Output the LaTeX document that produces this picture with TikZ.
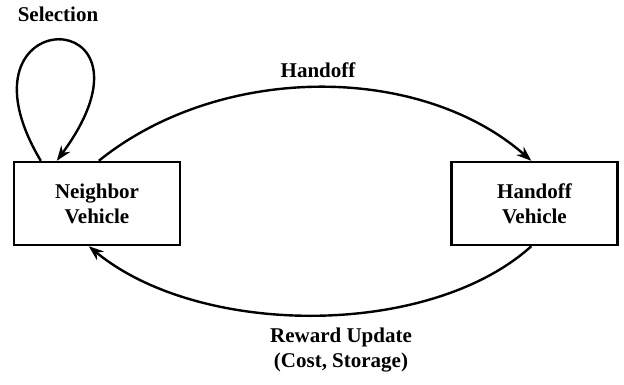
\documentclass[tikz,border=0pt]{standalone}
\usepackage{fontspec}
\setmainfont{Liberation Serif}
\usetikzlibrary{arrows.meta}
\begin{document}
\begin{tikzpicture}[x=1pt,y=-1pt,
  box/.style={draw,line width=2.4pt,minimum width=166pt,minimum height=83pt,inner sep=0pt,align=center,font=\fontsize{21}{25}\selectfont\bfseries},
  lbl/.style={align=center,inner sep=0pt,font=\fontsize{21}{25}\selectfont\bfseries},
  conn/.style={line width=2.4pt,-{Stealth[length=15pt,width=11pt]}}]
\useasboundingbox (0,0) rectangle (624,384);
\node[box] (nb) at (97,203.5) {Neighbor\\Vehicle};
\node[box] (hv) at (534.5,203.5) {Handoff\\Vehicle};
\node[lbl] (sel) at (58,14) {Selection};
\node[lbl] (ho) at (318,70) {Handoff};
\node[lbl] (ru) at (341,350) {Reward Update\\(Cost, Storage)};
\coordinate (ls) at ([xshift=28pt]nb.north west);
\coordinate (le) at ([xshift=44pt]nb.north west);
\coordinate (ts) at ([xshift=86pt]nb.north west);
\coordinate (te) at ([xshift=81pt]hv.north west);
\coordinate (bs) at ([xshift=81pt]hv.south west);
\coordinate (be) at ([xshift=76pt]nb.south west);
\draw[conn] (ls) .. controls (-55,0) and (175,0) .. (le);
\draw[conn] (ts) .. controls (220,63) and (420,63) .. (te);
\draw[conn] (bs) .. controls (430,338) and (200,338) .. (be);
\end{tikzpicture}
\end{document}
